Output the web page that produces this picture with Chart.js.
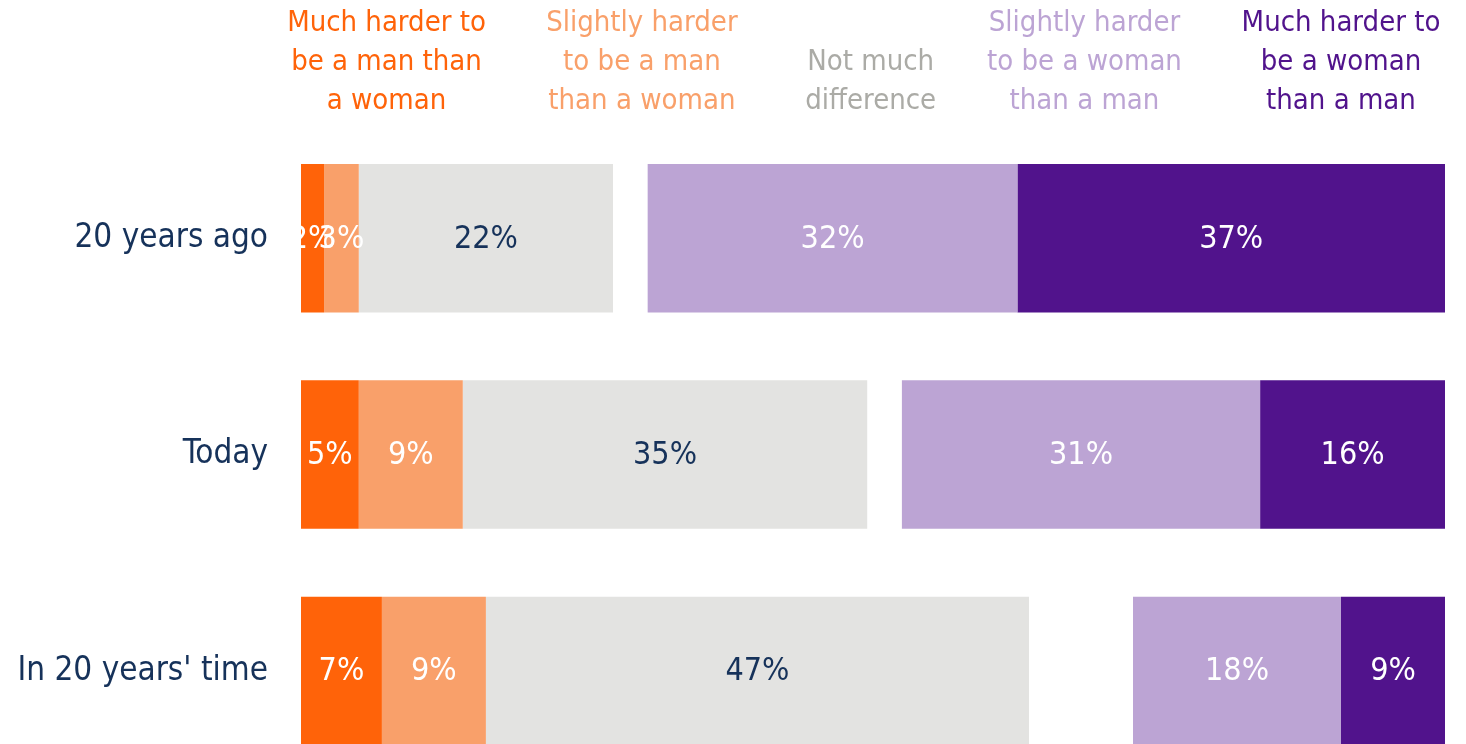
<!DOCTYPE html>
<html>
<head>
<meta charset="utf-8">
<script src="https://cdn.jsdelivr.net/npm/chart.js@4.4.0/dist/chart.umd.min.js"></script>
<style>
  html, body { margin: 0; padding: 0; background: #fff; overflow: hidden; }
  canvas { display: block; }
</style>
</head>
<body>
<canvas id="genderChart" width="1466" height="832"></canvas>
<script>
var periods = ["20 years ago", "Today", "In 20 years' time"];
var muchHarderMan = [2, 5, 7];
var slightlyHarderMan = [3, 9, 9];
var notMuchDifference = [22, 35, 47];
var slightlyHarderWoman = [32, 31, 18];
var muchHarderWoman = [37, 16, 9];
var scaleMax = 99;

var headerLabels = [
    ["Much harder to", "be a man than", "a woman"],
    ["Slightly harder", "to be a man", "than a woman"],
    ["Not much", "difference"],
    ["Slightly harder", "to be a woman", "than a man"],
    ["Much harder to", "be a woman", "than a man"]
];
var colors = ["#FF6309", "#F9A06A", "#E3E3E1", "#BCA4D4", "#51138C"];
var headerColors = ["#FF6309", "#F9A06A", "#ABABA6", "#BCA4D4", "#51138C"];
var labelColors = ["#ffffff", "#ffffff", "#16325A", "#ffffff", "#ffffff"];
var navy = "#16325A";
var fontFamily = "'Liberation Sans Narrow', 'DejaVu Sans Condensed', 'Arial Narrow', sans-serif";

// spacer between the two groups so the right group ends flush
var gap = periods.map(function(p, i){
    return scaleMax - muchHarderMan[i] - slightlyHarderMan[i] - notMuchDifference[i]
        - slightlyHarderWoman[i] - muchHarderWoman[i];
});

function makeSet(label, data, idx){
    return {
        label: label,
        data: data,
        backgroundColor: colors[idx],
        labelColor: labelColors[idx],
        barPercentage: 0.686,
        categoryPercentage: 1
    };
}

var barLabels = {
    id: 'barLabels',
    afterDatasetsDraw: function(chart){
        var ctx = chart.ctx;
        ctx.save();
        ctx.font = "32px " + fontFamily;
        ctx.textAlign = "center";
        ctx.textBaseline = "middle";
        chart.data.datasets.forEach(function(ds, i){
            if (ds.isGap) return;
            chart.getDatasetMeta(i).data.forEach(function(bar, j){
                ctx.fillStyle = ds.labelColor;
                ctx.fillText(ds.data[j] + "%", (bar.x + bar.base) / 2, bar.y + 1);
            });
        });
        ctx.restore();
    }
};

// column headers above the bars, positioned on the x scale (percent units)
var headerPos = [7.4, 29.5, 49.3, 67.8, 90];
var headers = {
    id: 'headers',
    afterDraw: function(chart){
        var ctx = chart.ctx;
        var xs = chart.scales.x;
        ctx.save();
        ctx.font = "29px " + fontFamily;
        ctx.textAlign = "center";
        ctx.textBaseline = "middle";
        headerLabels.forEach(function(lines, i){
            ctx.fillStyle = headerColors[i];
            var x = xs.getPixelForValue(headerPos[i]);
            for (var k = 0; k < lines.length; k++) {
                var y = 101 - (lines.length - 1 - k) * 39;
                ctx.fillText(lines[k], x, y);
            }
        });
        ctx.restore();
    }
};

var ctx = document.getElementById('genderChart').getContext('2d');
var chart = new Chart(ctx, {
    type: 'bar',
    data: {
        labels: periods,
        datasets: [
            makeSet("Much harder to be a man than a woman", muchHarderMan, 0),
            makeSet("Slightly harder to be a man than a woman", slightlyHarderMan, 1),
            makeSet("Not much difference", notMuchDifference, 2),
            {
                label: "gap",
                data: gap,
                isGap: true,
                backgroundColor: "rgba(0,0,0,0)",
                barPercentage: 0.686,
                categoryPercentage: 1
            },
            makeSet("Slightly harder to be a woman than a man", slightlyHarderWoman, 3),
            makeSet("Much harder to be a woman than a man", muchHarderWoman, 4)
        ]
    },
    options: {
        indexAxis: 'y',
        responsive: false,
        animation: false,
        layout: { padding: { top: 130, right: 21, bottom: 5, left: 0 } },
        plugins: {
            legend: { display: false },
            tooltip: { enabled: false }
        },
        scales: {
            x: {
                stacked: true,
                min: 0,
                max: scaleMax,
                display: false
            },
            y: {
                stacked: true,
                grid: { display: false, drawTicks: false },
                border: { display: false },
                ticks: {
                    color: navy,
                    padding: 33,
                    font: { family: fontFamily, size: 33 }
                },
                afterFit: function(scale){ scale.width = 301; }
            }
        }
    },
    plugins: [barLabels, headers]
});
</script>
</body>
</html>
